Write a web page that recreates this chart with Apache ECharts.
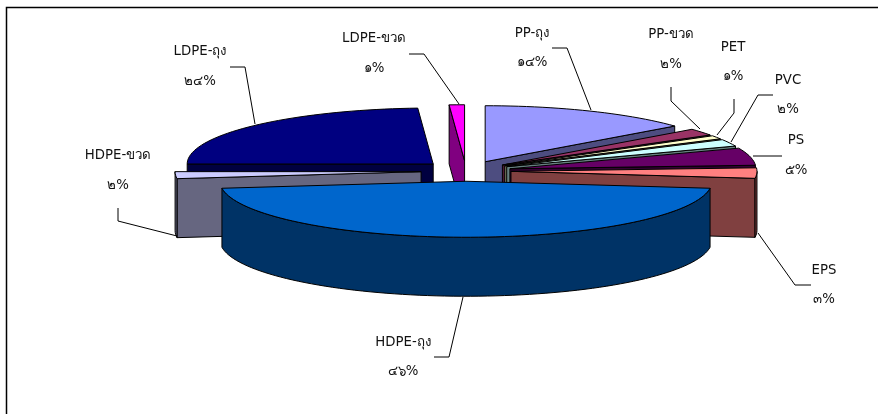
<!DOCTYPE html>
<html><head><meta charset="utf-8">
<style>html,body{margin:0;padding:0;background:#fff}#c{width:878px;height:414px}</style>
<script src="https://cdn.jsdelivr.net/npm/echarts@6/dist/echarts.min.js"></script>
</head><body><div id="c"></div>
<script>
// Data, clockwise from 12 o'clock
const categories = ['PP-ถุง','PP-ขวด','PET','PVC','PS','EPS','HDPE-ถุง','HDPE-ขวด','LDPE-ถุง','LDPE-ขวด'];
const values = [14,2,1,2,5,3,46,2,24,1];
const percentLabels = ['๑๔%','๒%','๑%','๒%','๕%','๓%','๔๖%','๒%','๒๔%','๑%'];
// Styling and layout
const topColors = ['#9999FF','#993366','#FFFFCC','#CCFFFF','#660066','#FF8080','#0066CC','#CCCCFF','#000080','#FF00FF'];
const sideColors = ['#4D4D80','#4D1933','#808066','#668080','#330033','#804040','#003366','#666680','#000040','#800080'];
const paintOrder = [0,1,2,3,4,5,9,8,7,6];
const labelCenters = [[532,34,63],[671,35,65],[733,48,77],[788,81,110],[796,141,171],[824,271,300],[403,343,372],[118,156,186],[200,52,82],[374,39,69]];
const leaders = [
 [[552,48],[567,48],[591,110]],
 [[671,87],[671,101],[700,129]],
 [[734,99],[734,113],[717,135]],
 [[773,95],[758,95],[731,142]],
 [[782,156],[753,156]],
 [[758,233],[795,285],[811,285]],
 [[434,357],[449,357],[463,297]],
 [[118,208],[118,221],[177,236]],
 [[230,67],[245,67],[255,124]],
 [[409,54],[424,54],[459,104]]
];
const CX=466, CY=171, RX=246, RY=56, DEPTH=59, EXPLODE=45;
const total = values.reduce((a,b)=>a+b,0);
const starts=[]; { let s=0; values.forEach(v=>{starts.push(s/total*360); s+=v;}); }
const rad=d=>d*Math.PI/180;
function renderItem(params, api){
  const i=params.dataIndex, v=api.value(0);
  const a0=starts[i], a1=a0+v/total*360, mid=(a0+a1)/2;
  const ox=CX+EXPLODE*Math.sin(rad(mid)), oy=CY-EXPLODE*RY/RX*Math.cos(rad(mid));
  const pt=(a,h)=>[ox+RX*Math.sin(rad(a)), oy-RY*Math.cos(rad(a))+(h||0)];
  const arc=(from,to,h)=>{const n=Math.max(2,Math.ceil((to-from)/2)),o=[];for(let k=0;k<=n;k++)o.push(pt(from+(to-from)*k/n,h));return o;};
  const z=paintOrder.indexOf(i)*10+1;
  const kids=[];
  const poly=(pts,fill,zz)=>kids.push({type:'polygon',z2:zz,shape:{points:pts},style:{fill:fill,stroke:'#000',lineWidth:1,lineJoin:'round'}});
  const apex=[ox,oy], apexB=[ox,oy+DEPTH];
  if(a0>180) poly([apex,pt(a0),pt(a0,DEPTH),apexB],sideColors[i],z);
  if(a1<180) poly([apex,pt(a1),pt(a1,DEPTH),apexB],sideColors[i],z);
  const w0=Math.max(a0,90), w1=Math.min(a1,270);
  if(w1>w0) poly(arc(w0,w1,0).concat(arc(w0,w1,DEPTH).reverse()),sideColors[i],z+1);
  poly([apex].concat(arc(a0,a1,0)),topColors[i],z+2);
  kids.push({type:'polyline',z2:500,shape:{points:leaders[i]},style:{stroke:'#000',lineWidth:1,fill:null}});
  const c=labelCenters[i];
  const txt=(t,y)=>kids.push({type:'text',z2:501,x:c[0],y:y,style:{text:t,fill:'#111',font:'13.3px "DejaVu Sans"',textAlign:'center',textVerticalAlign:'middle'}});
  txt(categories[i],c[1]); txt(percentLabels[i],c[2]);
  return {type:'group',children:kids};
}
const chart=echarts.init(document.getElementById('c'),null,{renderer:'canvas'});
chart.setOption({
  animation:false, backgroundColor:'#fff',
  graphic:[{type:'polyline',shape:{points:[[6.5,414],[6.5,7.5],[878,7.5]]},style:{stroke:'#000',lineWidth:1.5,fill:null},silent:true}],
  series:[{type:'custom',coordinateSystem:'none',renderItem:renderItem,data:values.map(v=>[v]),silent:true,clip:false}]
});
</script></body></html>
